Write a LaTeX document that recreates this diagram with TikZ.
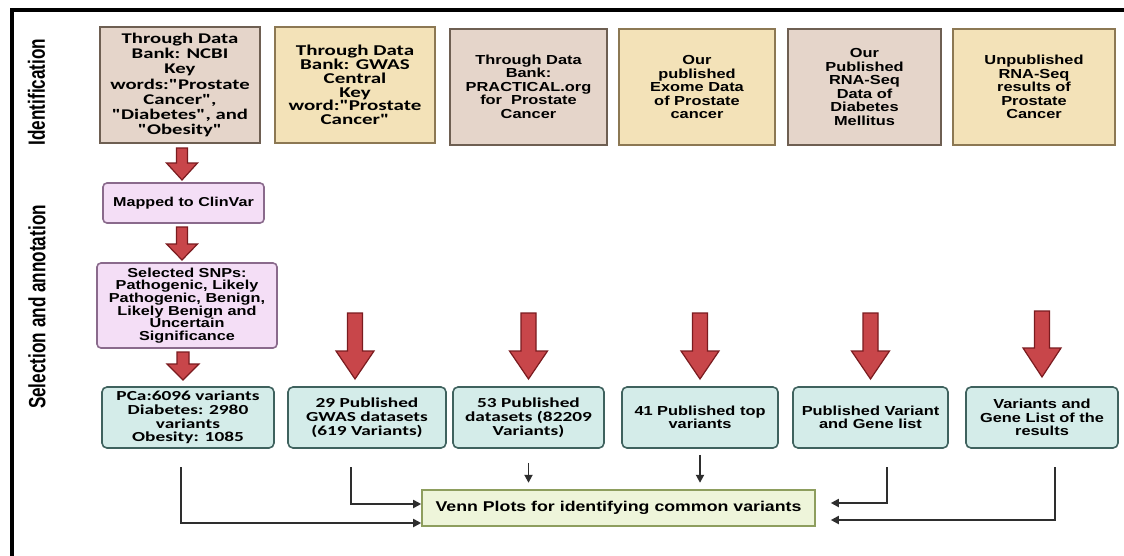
\documentclass[tikz,border=0pt]{standalone}
\usepackage{fontspec}
\usetikzlibrary{arrows.meta}
\newfontfamily\boxfont{Liberation Sans}[FakeStretch=1.25]
\newfontfamily\latofont{Carlito}[FakeStretch=1.4]
\newfontfamily\sidefont{Liberation Sans}[FakeStretch=0.73]

\definecolor{tanfill}{HTML}{E5D5CA}
\definecolor{tanline}{HTML}{6E5F52}
\definecolor{yelfill}{HTML}{F3E2B8}
\definecolor{yelline}{HTML}{8C7853}
\definecolor{lilfill}{HTML}{F4DEF6}
\definecolor{lilline}{HTML}{8A6A8C}
\definecolor{tealfill}{HTML}{D4ECE9}
\definecolor{tealline}{HTML}{3F625E}
\definecolor{vennfill}{HTML}{EEF5DA}
\definecolor{vennline}{HTML}{8E9E5E}
\definecolor{arrfill}{HTML}{C8464A}
\definecolor{arrline}{HTML}{7A1B1F}
\definecolor{wire}{HTML}{2E2E2E}

% block arrow: centre x, top y, head base y, tip y, shaft half width, head half width
\newcommand\redarrow[6]{%
  \draw[draw=arrline, fill=arrfill, line width=1.2pt, line join=miter]
    (#1-#5,#2) -- (#1+#5,#2) -- (#1+#5,#3) -- (#1+#6,#3) -- (#1,#4)
    -- (#1-#6,#3) -- (#1-#5,#3) -- cycle;}

\begin{document}
\begin{tikzpicture}[x=1pt,y=-1pt,
  srcbox/.style={draw, line width=2pt, minimum height=116pt, inner sep=0pt, align=center},
  tanbox/.style={srcbox, fill=tanfill, draw=tanline},
  yelbox/.style={srcbox, fill=yelfill, draw=yelline},
  lilbox/.style={draw=lilline, fill=lilfill, line width=1.6pt, rounded corners=4pt, inner sep=0pt, align=center},
  resbox/.style={draw=tealline, fill=tealfill, line width=1.6pt, rounded corners=5pt, minimum height=61pt, inner sep=0pt, align=center},
  vennbox/.style={draw=vennline, fill=vennfill, line width=1.6pt, minimum height=36pt, minimum width=393pt, inner sep=0pt, align=center},
  sidelabel/.style={rotate=90, font=\sidefont\bfseries\fontsize{23.5}{26}\selectfont},
  conn/.style={draw=wire, line width=1.8pt, -{Triangle[length=8pt,width=8pt]}},
  arialtxt/.style={font=\boxfont\bfseries\fontsize{13.1}{13.5}\selectfont},
  latotxt/.style={font=\latofont\bfseries\fontsize{13.8}{14}\selectfont}
]
\useasboundingbox (0,0) rectangle (1124,555);
\fill[white] (0,0) rectangle (1124,555);

% frame
\draw[line width=4pt, line cap=rect] (12,555) -- (12,9.5) -- (1124,9.5);

% side labels
\node[sidelabel] (lid) at (36.5,92) {Identification};
\node[sidelabel] (lsel) at (37,307) {Selection and annotation};

% data sources
\node[tanbox, minimum width=160pt, font=\latofont\bfseries\fontsize{14.8}{15.2}\selectfont] (n1) at (180,85)
  {Through Data\\Bank: NCBI\\Key\\words:"Prostate\\Cancer",\\"Diabetes", and\\"Obesity"};
\node[yelbox, minimum width=160pt, font=\latofont\bfseries\fontsize{15}{13.8}\selectfont] (n2) at (355,85)
  {Through Data\\Bank: GWAS\\Central\\Key\\word:"Prostate\\Cancer"};
\node[tanbox, minimum width=157pt, arialtxt] (n3) at (528.5,86.5)
  {Through Data\\Bank:\\PRACTICAL.org\\for\ \ Prostate\\Cancer};
\node[yelbox, minimum width=156pt, arialtxt] (n4) at (697,87)
  {Our\\published\\Exome Data\\of Prostate\\cancer};
\node[tanbox, minimum width=153pt, arialtxt] (n5) at (864.5,87)
  {Our\\Published\\RNA-Seq\\Data of\\Diabetes\\Mellitus};
\node[yelbox, minimum width=162pt, arialtxt] (n6) at (1034,87)
  {Unpublished\\RNA-Seq\\results of\\Prostate\\Cancer};

% ClinVar filtering
\node[lilbox, minimum width=161pt, minimum height=40pt, font=\boxfont\bfseries\fontsize{12.9}{13}\selectfont] (map) at (183.5,203)
  {Mapped to ClinVar};
\node[lilbox, minimum width=180pt, minimum height=85pt, font=\boxfont\bfseries\fontsize{13}{12.6}\selectfont] (snp) at (187,305.5)
  {Selected SNPs:\\Pathogenic, Likely\\Pathogenic, Benign,\\Likely Benign and\\Uncertain\\Significance};

% variant sets
\node[resbox, minimum width=172pt, font=\latofont\bfseries\fontsize{13.8}{13.7}\selectfont] (b1) at (188,417.5)
  {PCa:6096 variants\\Diabetes: 2980\\variants\\Obesity: 1085};
\node[resbox, minimum width=158pt, latotxt] (b2) at (367,417.5)
  {29 Published\\GWAS datasets\\(619 Variants)};
\node[resbox, minimum width=151pt, latotxt] (b3) at (528.5,417.5)
  {53 Published\\datasets (82209\\Variants)};
\node[resbox, minimum width=156pt, arialtxt] (b4) at (700,417.5)
  {41 Published top\\variants};
\node[resbox, minimum width=155pt, arialtxt] (b5) at (870.5,417.5)
  {Published Variant\\and Gene list};
\node[resbox, minimum width=152pt, arialtxt] (b6) at (1042,417.5)
  {Variants and\\Gene List of the\\results};

% comparison
\node[vennbox, font=\boxfont\bfseries\fontsize{14.2}{15}\selectfont] (venn) at (618.5,508)
  {Venn Plots for identifying common variants};

% block arrows
\redarrow{182}{148}{163}{180}{5.5}{15.5}
\redarrow{182}{227}{244}{260}{5.5}{15.5}
\redarrow{183}{352}{364}{380}{6}{16}
\redarrow{355}{313}{351}{379}{7.5}{19}
\redarrow{528.5}{313}{351}{379}{7.5}{19}
\redarrow{700}{313}{351}{379}{7.5}{19}
\redarrow{870.5}{313}{351}{379}{7.5}{19}
\redarrow{1042}{311}{348}{377}{7.5}{19}

% connectors into the comparison box
\coordinate (s1) at (181,467);
\coordinate (s2) at (351,467);
\coordinate (s5) at (887,467);
\coordinate (s6) at (1055,467);
\draw[conn] (s1) |- ([yshift=-15pt]venn.west);
\draw[conn] (s2) |- ([yshift=4pt]venn.west);
\draw[conn, shorten >=15pt] (s5) |- ([yshift=5pt]venn.east);
\draw[conn, shorten >=15pt] (s6) |- ([yshift=-12pt]venn.east);
\draw[conn] ([yshift=-14pt]b3.south) -- ([yshift=-34pt]b3.south);
\draw[conn] ([yshift=-6pt]b4.south) -- ([yshift=-34pt]b4.south);
\end{tikzpicture}
\end{document}
